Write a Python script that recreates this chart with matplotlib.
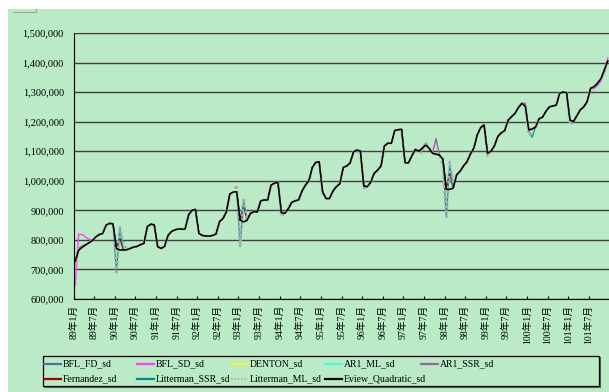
import matplotlib
matplotlib.use("Agg")
import matplotlib.pyplot as plt
from matplotlib.lines import Line2D
from matplotlib.patches import Rectangle
from matplotlib.ticker import FuncFormatter, MultipleLocator

GREEN = '#BAEAC6'
W, H = 609, 392

# monthly series, thousands, 89年1月 .. 101年12月 (Eview quadratic disaggregation)
eview_89 = [728, 765, 775, 783, 790, 798, 810, 818, 822, 850, 856, 854]
eview_90 = [771, 766, 766, 767, 771, 776, 778, 784, 788, 845, 853, 851]
eview_91 = [777, 771, 778, 815, 828, 834, 837, 836, 837, 885, 900, 903]
eview_92 = [822, 815, 813, 813, 815, 820, 862, 872, 895, 955, 962, 963]
eview_93 = [867, 861, 866, 890, 895, 895, 932, 935, 935, 985, 992, 995]
eview_94 = [892, 890, 905, 927, 932, 935, 965, 985, 1000, 1045, 1062, 1064]
eview_95 = [963, 940, 940, 965, 980, 990, 1045, 1050, 1060, 1098, 1104, 1100]
eview_96 = [982, 980, 995, 1025, 1036, 1050, 1118, 1127, 1127, 1170, 1173, 1174]
eview_97 = [1061, 1061, 1085, 1106, 1100, 1110, 1121, 1110, 1093, 1090, 1087, 1073]
eview_98 = [971, 971, 975, 1020, 1032, 1050, 1064, 1090, 1110, 1155, 1180, 1189]
eview_99 = [1093, 1100, 1118, 1150, 1162, 1170, 1205, 1217, 1228, 1248, 1262, 1252]
eview_100 = [1172, 1175, 1182, 1210, 1215, 1235, 1250, 1253, 1256, 1296, 1300, 1298]
eview_101 = [1205, 1200, 1220, 1240, 1250, 1268, 1313, 1318, 1330, 1345, 1375, 1405]

eview = (eview_89 + eview_90 + eview_91 + eview_92 + eview_93 + eview_94 + eview_95
         + eview_96 + eview_97 + eview_98 + eview_99 + eview_100 + eview_101)

# months where the other methods part from the Eview series (month index: value)
bfl_fd_diff = {1: 770, 2: 780}
bfl_sd_diff = {0: 647, 1: 819, 2: 818, 3: 810, 4: 802, 5: 798,
               151: 1312, 152: 1322, 153: 1338, 154: 1366, 155: 1415}
denton_diff = {13: 770, 49: 865}
ar1_ml_diff = {13: 835, 49: 930, 109: 1050}
ar1_ssr_diff = {105: 1143, 102: 1128, 131: 1262}
fernandez_diff = {13: 806, 49: 915, 109: 1030}
litterman_ssr_diff = {12: 690, 13: 840, 48: 779, 49: 935, 108: 878, 109: 1055, 133: 1147}
litterman_ml_diff = {0: 715, 1: 772, 12: 690, 13: 842, 14: 790, 47: 985, 48: 779, 49: 940,
                     50: 868, 60: 880, 72: 952, 84: 975, 101: 1093, 102: 1130, 107: 1050,
                     108: 878, 109: 1064, 110: 990, 120: 1085, 132: 1155, 144: 1190}

names = ['BFL_FD_sd', 'BFL_SD_sd', 'DENTON_sd', 'AR1_ML_sd', 'AR1_SSR_sd',
         'Fernandez_sd', 'Litterman_SSR_sd', 'Litterman_ML_sd', 'Eview_Quadratic_sd']
diffs = [bfl_fd_diff, bfl_sd_diff, denton_diff, ar1_ml_diff, ar1_ssr_diff,
         fernandez_diff, litterman_ssr_diff, litterman_ml_diff, {}]
colors = ['#4F6FA8', '#FF40FF', '#F2F230', '#40FFE0', '#A060A0',
          '#A00000', '#008C8C', '#ABABAB', '#000000']
styles = ['-', '-', '-', '-', '-', '-', '-', (0, (1, 1)), '-']
widths = [1.0, 1.0, 1.0, 1.0, 1.0, 1.0, 0.8, 1.8, 1.0]

tick_labels = []
for k in range(26):
    tick_labels.append(f"{89 + k // 2}年{1 if k % 2 == 0 else 7}月")

fig = plt.figure(figsize=(W / 100, H / 100), dpi=100, facecolor='white')
fig.patches.append(Rectangle((7.5 / W, 0), 1, (H - 9) / H, transform=fig.transFigure,
                             facecolor=GREEN, edgecolor='none', zorder=-5))
fig.add_artist(Line2D([13 / W, 36 / W, 36 / W], [1 - 11.5 / H, 1 - 11.5 / H, 1 - 9 / H],
                      transform=fig.transFigure, color='#A0A0A0', lw=0.8))

left, right, top, bottom = 73.5, 609.5, 33, 299
ax = fig.add_axes([left / W, 1 - bottom / H, (right - left) / W, (bottom - top) / H])
ax.set_facecolor(GREEN)

months = list(range(len(eview)))
for name, d, c, ls, lw in zip(names, diffs, colors, styles, widths):
    vals = [d.get(i, v) * 1000 for i, v in enumerate(eview)]
    ax.plot(months, vals, color=c, ls=ls, lw=lw, label=name)

# categories sit between the tick marks
ax.set_xlim(-0.5, 155.5)
ax.set_ylim(600000, 1500000)
ax.yaxis.set_major_locator(MultipleLocator(100000))
ax.yaxis.set_major_formatter(FuncFormatter(lambda v, p: f"{int(v):,}"))
ax.grid(axis='y', color='#404040', lw=1.0)
ax.set_axisbelow(True)

ax.set_xticks([k * 6 - 0.5 for k in range(26)])
ax.set_xticklabels(tick_labels, rotation=90, ha='center', va='top',
                   family=['Liberation Serif', 'Noto Sans CJK TC'], fontsize=7)
for lab in ax.get_yticklabels():
    lab.set_family('Liberation Serif')
    lab.set_fontsize(7.5)
ax.tick_params(axis='y', length=0, pad=7)
ax.tick_params(axis='x', direction='in', length=2.5, width=0.8, pad=4)

ax.spines['right'].set_visible(False)
ax.spines['top'].set_color('#404040')
ax.spines['left'].set_color('black')
ax.spines['bottom'].set_color('black')

# legend box, five equal columns in two rows
lx0, lx1, ly0, ly1 = 43, 599, 356, 386
fig.patches.append(Rectangle((lx0 / W, 1 - ly1 / H), (lx1 - lx0) / W, (ly1 - ly0) / H,
                             transform=fig.transFigure, facecolor=GREEN,
                             edgecolor='black', lw=0.9, zorder=2))
fig.add_artist(Line2D([(lx0 + 1) / W, (lx1 + 1) / W, (lx1 + 1) / W],
                      [1 - (ly1 + 1) / H, 1 - (ly1 + 1) / H, 1 - (ly0 + 1) / H],
                      transform=fig.transFigure, color='#606060', lw=0.8))
col_x = [44, 137, 231, 325, 421]
row_y = [363.5, 378.5]
for i, (name, c, ls) in enumerate(zip(names, colors, styles)):
    x0 = col_x[i % 5]
    y0 = 1 - row_y[i // 5] / H
    fig.add_artist(Line2D([x0 / W, (x0 + 17) / W], [y0, y0], transform=fig.transFigure,
                          color=c, ls=ls, lw=1.6 if ls == '-' else 1.2, zorder=3))
    fig.text((x0 + 19) / W, y0, name, ha='left', va='center', fontsize=7,
             family='Liberation Serif', zorder=3)

fig.savefig('out.png', dpi=100, facecolor=fig.get_facecolor())
